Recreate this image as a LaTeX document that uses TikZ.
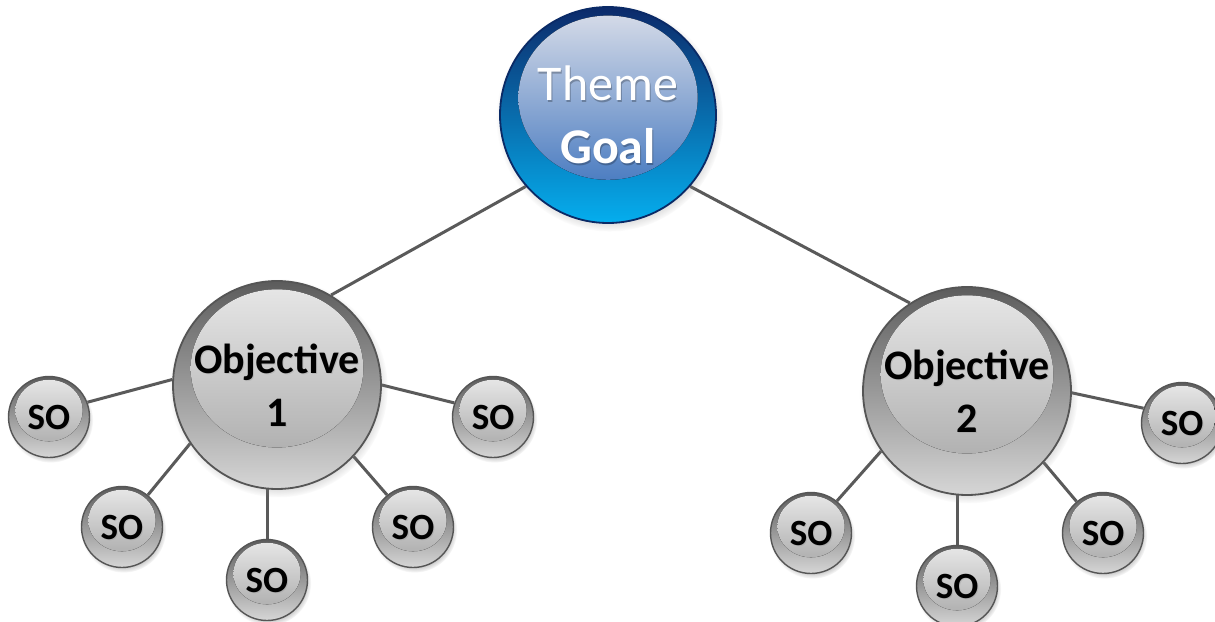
\documentclass[tikz,border=0pt]{standalone}
\usepackage{fontspec}
\setmainfont{Carlito}
\usetikzlibrary{backgrounds,shadows,fadings}
\definecolor{linegray}{HTML}{5A5A5A}
\definecolor{gtop}{HTML}{5C5C5C}
\definecolor{gmid}{HTML}{8E8E8E}
\definecolor{gbot}{HTML}{D6D6D6}
\definecolor{ghtop}{HTML}{E8E8E8}
\definecolor{ghbot}{HTML}{A4A4A4}
\definecolor{gborder}{HTML}{555555}
\definecolor{btop}{HTML}{0C2A6A}
\definecolor{bmid}{HTML}{0055AA}
\definecolor{bbot}{HTML}{05AEEE}
\definecolor{bhtop}{HTML}{DADEE9}
\definecolor{bhbot}{HTML}{2A66B8}
\definecolor{bborder}{HTML}{0A2A66}
\newcommand\glossfill[5]{%
  \fill[top color=#2, bottom color=#3]
    ([yshift=0.16*#1]path picture bounding box.center)
    ellipse [x radius=0.83*#1, y radius=0.76*#1];
  \node[text=#5, opacity=.25, align=center, inner sep=0pt]
    at ([xshift=1pt,yshift=-1.5pt]path picture bounding box.center) {#4};
}
\newcommand\themefont{\fontsize{50}{63}\selectfont}
\newcommand\objfont{\fontsize{42}{53}\selectfont\bfseries}
\newcommand\sofont{\fontsize{37}{44}\selectfont\bfseries}
\tikzset{
  link/.style={draw=linegray, line width=3pt},
  bshadow/.style={circular drop shadow={shadow xshift=1.5pt, shadow yshift=-3pt, shadow scale=1.05, opacity=.45}},
  themeball/.style={circle, inner sep=0pt, minimum size=216pt, draw=bborder, line width=1.8pt,
    top color=btop, middle color=bmid, bottom color=bbot, bshadow,
    text=white, font=\themefont, align=center, node contents={#1},
    path picture={\glossfill{108pt}{bhtop}{bhbot}{\themefont #1}{black}}},
  objball/.style={circle, inner sep=0pt, minimum size=208pt, draw=gborder, line width=1.8pt,
    top color=gtop, middle color=gmid, bottom color=gbot, bshadow,
    text=black, font=\objfont, align=center, node contents={#1},
    path picture={\glossfill{104pt}{ghtop}{ghbot}{\objfont #1}{gray}}},
  soball/.style={circle, inner sep=0pt, minimum size=81pt, draw=gborder, line width=1.4pt,
    top color=gtop, middle color=gmid, bottom color=gbot, bshadow,
    text=black, font=\sofont, align=center, node contents={SO},
    path picture={\glossfill{40.5pt}{ghtop}{ghbot}{\sofont SO}{gray}}}
}
\begin{document}
\begin{tikzpicture}[x=1pt,y=-1pt]
\useasboundingbox (0,0) rectangle (1215,621);
\node (T) at (608,115) [themeball={Theme\\\textbf{Goal}}];
\node (O1) at (277,385) [objball={Objective\\1}];
\node (O2) at (967,391) [objball={Objective\\2}];
\node (s11) at (49,417) [soball];
\node (s12) at (122,527) [soball];
\node (s13) at (267,580) [soball];
\node (s14) at (413,527) [soball];
\node (s15) at (493,417) [soball];
\node (s21) at (811,533) [soball];
\node (s22) at (957,586) [soball];
\node (s23) at (1103,533) [soball];
\node (s24) at (1182,423) [soball];
\begin{pgfonlayer}{background}
\fill[white] (0,0) rectangle (1215,621);
\draw[link] (T.221) -- (O1.59);
\draw[link] (T.319) -- (O2.123);
\draw[link] (O1.177) -- (s11.21);
\draw[link] (O1.214) -- (s12.51);
\draw[link] (s13.north) -- (s13.north |- O1.center);
\draw[link] (O1.317) -- (s14.129);
\draw[link] (O1.0) -- (s15.160);
\draw[link] (O2.215) -- (s21.51);
\draw[link] (s22.north) -- (s22.north |- O2.center);
\draw[link] (O2.317) -- (s23.130);
\draw[link] (O2.359) -- (s24.159);
\end{pgfonlayer}
\end{tikzpicture}
\end{document}
